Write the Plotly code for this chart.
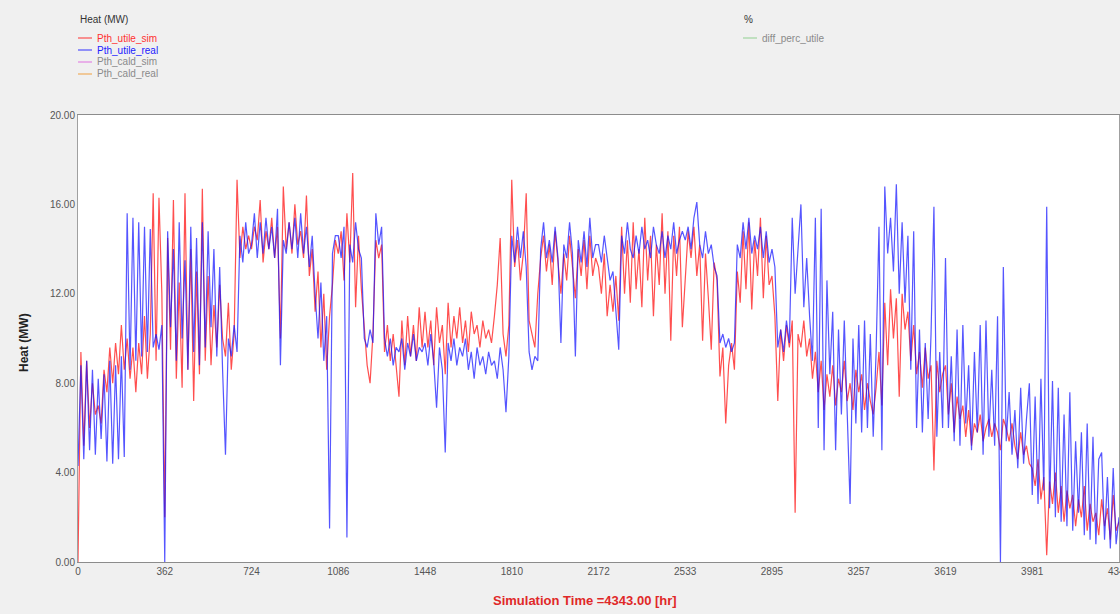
import numpy as np
import plotly.graph_objects as go

# time axis: 0 .. 4343 h, one reading every 1/30 of a tick interval
t_end = 4343.0
tick_hours = [0, 362, 724, 1086, 1448, 1810, 2172, 2533, 2895, 3257, 3619, 3981, 4343]
tick_text = [str(h) for h in tick_hours]
y_ticks = [0, 4, 8, 12, 16, 20]

# Pth_utile_sim (MW), 30 readings per tick interval
pth_utile_sim = [
    0.0, 9.4, 5.2, 9.0, 6.0, 8.0, 6.6, 7.0, 6.2, 8.6, 7.6, 9.6, 8.0, 9.8, 8.4, 10.6, 8.6, 10.0, 8.2, 9.6, 7.6, 9.8, 8.4, 11.0, 8.2, 10.2, 16.5, 9.0, 16.3, 12.0,
    2.0, 14.5, 9.5, 16.2, 8.2, 12.5, 7.8, 16.5, 8.6, 14.0, 7.2, 13.0, 8.4, 16.7, 9.0, 12.8, 8.8, 11.5, 9.6, 12.4, 10.0, 9.2, 11.6, 8.6, 10.2, 17.1, 13.6, 15.0, 14.0, 14.6,
    14.0, 15.0, 14.4, 16.2, 13.4, 14.8, 14.0, 15.4, 13.6, 15.0, 10.0, 16.8, 14.0, 15.2, 13.8, 16.0, 14.2, 14.8, 13.6, 16.4, 12.8, 14.0, 11.2, 13.0, 9.6, 12.0, 8.6, 11.0, 12.4, 14.4,
    13.8, 14.8, 12.6, 15.6, 13.4, 17.4, 11.4, 14.6, 12.2, 10.4, 8.8, 8.0, 10.2, 14.4, 13.6, 14.2, 9.4, 10.6, 9.0, 10.2, 8.6, 7.4, 10.8, 8.8, 11.0, 9.2, 10.6, 9.0, 11.4, 9.6,
    11.2, 9.6, 10.8, 8.8, 11.4, 9.8, 10.6, 8.4, 11.6, 9.6, 11.0, 10.0, 11.4, 9.8, 10.8, 9.4, 11.2, 10.2, 10.6, 9.6, 10.8, 10.0, 10.4, 9.8, 11.0, 12.4, 14.5, 10.2, 9.2, 10.6,
    17.1, 13.2, 14.4, 12.6, 13.8, 16.5, 10.8, 10.2, 9.6, 12.0, 13.6, 14.6, 13.0, 14.2, 12.4, 14.8, 13.4, 12.0, 13.8, 12.6, 14.6, 13.2, 11.8, 14.0, 12.8, 14.4, 12.2, 14.6, 12.8, 13.6,
    13.2, 12.0, 13.8, 11.0, 12.4, 11.2, 12.8, 10.8, 15.0, 12.0, 14.4, 11.6, 15.2, 12.2, 14.0, 11.4, 15.4, 12.6, 14.6, 11.0, 14.2, 12.4, 15.6, 12.0, 14.8, 9.9, 14.6, 12.8, 15.0, 10.5,
    12.6, 14.8, 13.6, 15.0, 12.8, 14.2, 9.9, 13.8, 11.8, 9.5, 13.4, 12.6, 8.3, 9.6, 6.2, 8.8, 9.8, 8.6, 13.0, 11.6, 14.8, 12.2, 15.2, 11.3, 14.4, 12.8, 15.4, 11.8, 14.6, 12.4,
    12.8, 11.0, 7.2, 10.4, 9.0, 10.6, 9.6, 10.8, 2.2, 10.2, 9.6, 10.8, 9.2, 10.0, 8.2, 9.4, 7.6, 9.0, 6.8, 8.4, 7.4, 8.8, 7.0, 8.2, 7.6, 9.0, 7.2, 8.0, 6.8, 8.6,
    7.6, 8.4, 6.8, 8.0, 7.2, 6.6, 7.8, 9.4, 7.0, 11.6, 8.8, 12.2, 10.0, 11.8, 7.4, 12.0, 10.4, 11.2, 9.0, 10.6, 8.4, 9.4, 7.8, 9.6, 8.2, 8.8, 4.1, 9.0, 7.6, 8.4,
    8.8, 6.6, 8.0, 5.8, 7.4, 6.4, 7.0, 5.6, 6.8, 5.2, 6.2, 5.8, 6.6, 5.4, 6.0, 6.4, 5.6, 6.2, 5.8, 5.0, 6.4, 6.0, 5.4, 6.2, 5.2, 4.6, 5.8, 4.8, 5.2, 4.4,
    4.2, 3.4, 4.6, 2.8, 3.8, 0.3, 3.6, 2.6, 4.0, 2.2, 3.4, 1.8, 3.2, 2.4, 3.0, 1.6, 2.8, 2.0, 3.4, 1.4, 2.6, 1.8, 2.2, 1.2, 2.8, 1.6, 2.4, 1.0, 3.0, 1.4,
    1.8,
]

# Pth_utile_real (MW)
pth_utile_real = [
    4.3, 8.8, 4.6, 9.0, 5.0, 8.6, 4.8, 8.2, 5.5, 8.4, 4.5, 9.0, 4.4, 8.8, 4.6, 9.2, 4.7, 15.6, 8.6, 15.4, 9.0, 15.2, 9.2, 15.0, 9.4, 14.9, 9.6, 10.2, 9.5, 10.6,
    0.0, 14.8, 10.5, 14.0, 9.0, 15.2, 10.0, 13.5, 8.6, 15.0, 9.4, 14.5, 8.8, 15.2, 9.6, 14.8, 10.5, 14.0, 9.2, 13.2, 8.6, 4.8, 10.0, 9.2, 10.6, 9.4, 14.6, 13.4, 15.2, 13.8,
    14.2, 15.6, 13.6, 15.2, 13.8, 15.4, 14.0, 15.0, 13.6, 15.8, 8.8, 14.4, 13.8, 15.2, 14.0, 15.4, 13.6, 15.6, 13.8, 15.0, 13.2, 14.6, 12.0, 10.0, 12.5, 9.0, 11.0, 1.5, 13.8, 14.6,
    14.6, 13.6, 15.0, 1.1, 14.2, 13.4, 15.2, 14.0, 13.6, 10.0, 9.6, 10.4, 9.8, 15.6, 14.2, 15.0, 10.0, 9.2, 10.0, 8.8, 9.6, 9.4, 10.0, 8.6, 9.8, 9.2, 10.2, 9.0, 9.6, 9.4,
    9.8, 8.8, 10.2, 9.0, 6.9, 9.6, 8.6, 4.9, 9.8, 9.0, 10.0, 8.8, 9.6, 9.2, 10.0, 8.6, 9.4, 8.2, 9.6, 8.8, 9.2, 8.4, 9.4, 8.8, 9.0, 8.2, 9.6, 8.6, 6.7, 9.2,
    14.6, 13.4, 15.0, 13.6, 14.8, 13.2, 9.4, 8.6, 9.2, 9.0, 14.0, 15.2, 13.6, 14.4, 13.4, 15.0, 13.6, 9.8, 14.2, 13.6, 15.2, 13.8, 9.2, 14.4, 13.4, 14.8, 13.2, 15.4, 13.6, 14.2,
    14.2, 13.4, 14.6, 13.6, 12.6, 13.0, 11.4, 9.5, 14.6, 13.8, 15.2, 14.0, 13.6, 14.6, 13.8, 15.0, 14.0, 14.4, 13.6, 15.0, 14.2, 13.8, 14.8, 13.6, 14.6, 14.0, 15.2, 13.8, 14.4, 14.8,
    14.4, 15.0, 14.0, 15.4, 16.1, 14.2, 13.6, 14.8, 13.8, 14.2, 13.2, 12.8, 9.8, 10.2, 9.6, 10.0, 9.4, 9.8, 14.2, 13.6, 15.2, 14.0, 15.4, 13.8, 14.6, 14.0, 15.0, 13.6, 14.8, 13.4,
    14.0, 13.2, 9.6, 10.4, 9.4, 10.8, 9.8, 15.4, 12.0, 14.2, 16.0, 11.4, 13.6, 11.0, 9.0, 15.4, 6.0, 15.8, 5.0, 12.6, 8.4, 11.2, 5.0, 10.4, 6.6, 10.8, 7.0, 2.6, 10.0, 6.2,
    10.6, 5.8, 10.8, 6.0, 10.2, 5.6, 9.4, 15.0, 5.0, 16.8, 13.8, 15.4, 13.0, 16.9, 12.0, 15.2, 11.6, 14.6, 8.6, 14.8, 6.0, 10.4, 5.8, 9.8, 6.4, 10.2, 15.9, 5.6, 9.4, 6.0,
    13.6, 6.0, 9.2, 5.4, 10.4, 5.2, 10.6, 6.2, 8.8, 5.0, 9.4, 5.8, 10.6, 4.8, 10.8, 5.6, 8.6, 5.2, 11.0, 0.0, 13.2, 5.4, 7.6, 4.8, 6.8, 4.2, 7.8, 4.4, 6.4, 8.0,
    3.0, 7.4, 2.6, 8.2, 3.2, 15.9, 2.4, 8.1, 2.0, 7.8, 1.8, 6.6, 1.6, 7.6, 1.4, 5.4, 2.2, 5.8, 1.2, 6.2, 1.0, 5.6, 0.8, 4.6, 4.9, 1.0, 3.8, 0.6, 4.2, 0.8,
    2.0,
]

hours = np.linspace(0, t_end, len(pth_utile_sim))

FONT = "Liberation Sans, Arial, sans-serif"
W, H = 1120, 614
L, R, T, B = 78, 1, 115, 52
pw, ph = W - L - R, H - T - B


def px(x):   # page pixel -> paper coordinate
    return (x - L) / pw


def py(y):
    return (H - B - y) / ph


fig = go.Figure()
fig.add_trace(go.Scatter(x=hours, y=pth_utile_sim, mode="lines",
                         line=dict(color="rgba(255,20,20,0.75)", width=1.2),
                         name="Pth_utile_sim", hoverinfo="skip"))
fig.add_trace(go.Scatter(x=hours, y=pth_utile_real, mode="lines",
                         line=dict(color="rgba(20,20,255,0.72)", width=1.2),
                         name="Pth_utile_real", hoverinfo="skip"))

# legend blocks drawn by hand (TRNSYS-style)
left_items = [("Pth_utile_sim", "#ff3030", "#ff3030"),
              ("Pth_utile_real", "#3030ff", "#2020ff"),
              ("Pth_cald_sim", "#e070e0", "#8a8a8a"),
              ("Pth_cald_real", "#f0a040", "#8a8a8a")]
annotations = [dict(x=px(78), y=py(19), xref="paper", yref="paper", text="Heat (MW)",
                    showarrow=False, xanchor="left", yanchor="middle",
                    font=dict(family=FONT, size=10, color="#333333"))]
shapes = []
for i, (name, lc, tc) in enumerate(left_items):
    yy = 38 + i * 12
    shapes.append(dict(type="line", xref="paper", yref="paper", x0=px(78), x1=px(92),
                       y0=py(yy), y1=py(yy), line=dict(color=lc, width=1)))
    annotations.append(dict(x=px(95), y=py(yy), xref="paper", yref="paper", text=name,
                            showarrow=False, xanchor="left", yanchor="middle",
                            font=dict(family=FONT, size=10, color=tc)))

annotations.append(dict(x=px(742), y=py(20), xref="paper", yref="paper", text="%",
                        showarrow=False, xanchor="left", yanchor="middle",
                        font=dict(family=FONT, size=10, color="#333333")))
shapes.append(dict(type="line", xref="paper", yref="paper", x0=px(743), x1=px(757),
                   y0=py(38), y1=py(38), line=dict(color="#90d090", width=1)))
annotations.append(dict(x=px(760), y=py(38), xref="paper", yref="paper", text="diff_perc_utile",
                        showarrow=False, xanchor="left", yanchor="middle",
                        font=dict(family=FONT, size=10, color="#8a8a8a")))

# axis titles
annotations.append(dict(x=px(585), y=py(600), xref="paper", yref="paper",
                        text="<b>Simulation Time =4343.00 [hr]</b>", showarrow=False,
                        xanchor="center", yanchor="middle",
                        font=dict(family=FONT, size=13, color="#e02828")))
annotations.append(dict(x=px(24), y=py(343), xref="paper", yref="paper",
                        text="<b>Heat (MW)</b>", showarrow=False, textangle=-90,
                        xanchor="center", yanchor="middle",
                        font=dict(family=FONT, size=12, color="#222222")))

fig.update_layout(
    width=W, height=H,
    margin=dict(l=L, r=R, t=T, b=B, autoexpand=False),
    paper_bgcolor="#f0f0f0", plot_bgcolor="white",
    showlegend=False,
    annotations=annotations, shapes=shapes,
    xaxis=dict(range=[0, t_end], tickvals=tick_hours, ticktext=tick_text,
               showgrid=False, zeroline=False, showline=True, mirror=True,
               linecolor="#8c8c8c", linewidth=1, ticks="", ticklabeloverflow="allow",
               automargin=False,
               tickfont=dict(family=FONT, size=10, color="#555555")),
    yaxis=dict(range=[0, 20], tickvals=y_ticks, tickformat=".2f",
               showgrid=False, zeroline=False, showline=True, mirror=True,
               linecolor="#a0a0a0", linewidth=1, ticks="", automargin=False,
               tickfont=dict(family=FONT, size=10, color="#555555")),
)

# drop the default page margin so the figure sits at the window's top-left corner
fig.write_html("out.html", config={"displayModeBar": False},
               post_script="document.body.style.margin='0';document.body.style.overflow='hidden';")
